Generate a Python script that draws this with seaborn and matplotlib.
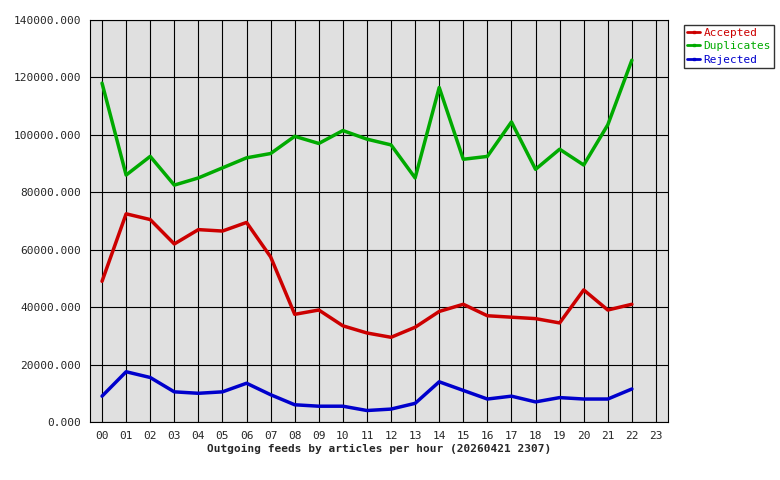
import pandas as pd
import matplotlib
matplotlib.use("Agg")
import matplotlib.pyplot as plt
import seaborn as sns

hours = ["%02d" % h for h in range(24)]
accepted = [49000, 72500, 70500, 62000, 67000, 66500, 69500, 57500, 37500, 39000, 33500, 31000,
            29500, 33000, 38500, 41000, 37000, 36500, 36000, 34500, 46000, 39000, 41000]
duplicates = [118000, 86000, 92500, 82500, 85000, 88500, 92000, 93500, 99500, 97000, 101500, 98500,
              96500, 85000, 116500, 91500, 92500, 104500, 88000, 95000, 89500, 103500, 126000]
rejected = [9000, 17500, 15500, 10500, 10000, 10500, 13500, 9500, 6000, 5500, 5500, 4000,
            4500, 6500, 14000, 11000, 8000, 9000, 7000, 8500, 8000, 8000, 11500]

sns.set_style("white")
plt.rcParams["font.family"] = ["DejaVu Sans Mono"]

rows = []
for name, vals in [("Accepted", accepted), ("Duplicates", duplicates), ("Rejected", rejected)]:
    for i, v in enumerate(vals):
        rows.append({"hour": i, "value": v, "series": name})
df = pd.DataFrame(rows)

fig = plt.figure(figsize=(7.8, 4.8), dpi=100)
ax = fig.add_axes([90 / 780, 58 / 480, 578 / 780, 402 / 480])
ax.set_facecolor("#e0e0e0")
sns.lineplot(data=df, x="hour", y="value", hue="series",
             palette={"Accepted": "#cc0000", "Duplicates": "#00aa00", "Rejected": "#0000cc"},
             linewidth=2.5, ax=ax, legend=False)

ax.set_xlim(-0.5, 23.5)
ax.set_ylim(0, 140000)
ax.set_xticks(range(24))
ax.set_xticklabels(hours, fontsize=8)
ax.set_yticks(range(0, 140001, 20000))
ax.set_yticklabels(["%d.000" % v for v in range(0, 140001, 20000)], fontsize=8)
ax.grid(True, color="black", linewidth=0.8)
ax.set_axisbelow(True)
for s in ax.spines.values():
    s.set_color("black")
ax.tick_params(length=3, color="black")
ax.set_ylabel("")
ax.set_xlabel("Outgoing feeds by articles per hour (20260421 2307)", fontsize=8,
              fontweight="bold", labelpad=2)

handles = [plt.Line2D([], [], color=c, linewidth=2, marker="s", markersize=2)
           for c in ["#cc0000", "#00aa00", "#0000cc"]]
leg = fig.legend(handles, ["Accepted", "Duplicates", "Rejected"], loc="upper left",
                 bbox_to_anchor=(678 / 780, 1 - 19 / 480), fontsize=8, frameon=True,
                 fancybox=False, edgecolor="black", handlelength=1.2, borderpad=0.3,
                 labelspacing=0.3, handletextpad=0.3)
for t, c in zip(leg.get_texts(), ["#cc0000", "#00aa00", "#0000cc"]):
    t.set_color(c)

fig.savefig("out.png", dpi=100)
